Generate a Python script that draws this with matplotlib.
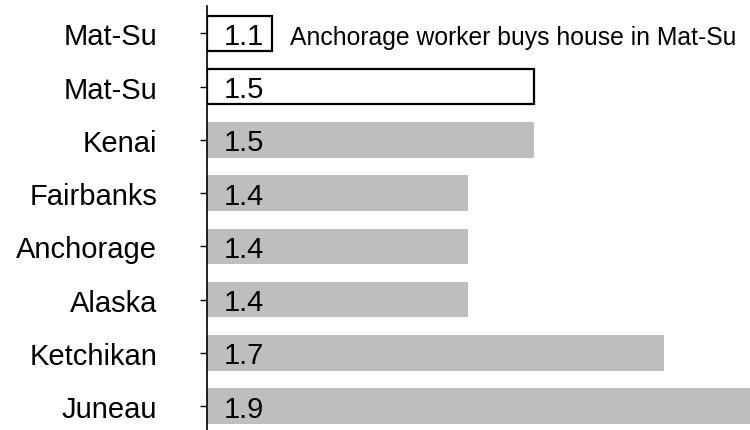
import matplotlib
matplotlib.use("Agg")
import matplotlib.pyplot as plt

plt.rcParams["font.family"] = ["Liberation Sans", "DejaVu Sans"]

# bottom to top
regions = ["Juneau", "Ketchikan", "Alaska", "Anchorage", "Fairbanks", "Kenai", "Mat-Su", "Mat-Su"]
ratios = [1.9, 1.7, 1.4, 1.4, 1.4, 1.5, 1.5, 1.1]
note = "Anchorage worker buys house in Mat-Su"

base = 1.0
gray = "#BEBEBE"
fills = [gray] * 6 + ["white", "white"]
edges = ["none"] * 6 + ["black", "black"]

fig = plt.figure(figsize=(7.5, 4.31), dpi=100)
ax = fig.add_axes([0.276, 0.0, 0.724, 0.9838])

ypos = list(range(len(regions)))
widths = [r - base for r in ratios]
ax.barh(ypos, widths, left=base, height=0.665, color=fills,
        edgecolor=edges, linewidth=1.6, zorder=2)

# digits sit centred on the bar, so anchor on the baseline
for y, r in zip(ypos, ratios):
    ax.annotate(f"{r:.1f}", xy=(base, y), xytext=(11.8, -7.6), textcoords="offset points",
                ha="left", va="baseline", fontsize=21, color="black", zorder=3)

ax.annotate(note, xy=(ratios[-1], ypos[-1]), xytext=(12.5, -7.6), textcoords="offset points",
            ha="left", va="baseline", fontsize=17.8, color="black")

ax.set_xlim(base, 1.831)
ax.set_ylim(-0.45, 7.514)
ax.set_yticks(ypos)
ax.set_yticklabels(regions, fontsize=21)
ax.tick_params(axis="y", direction="out", length=5, width=1, pad=31, colors="black")
ax.set_xticks([])

for s in ["top", "right", "bottom"]:
    ax.spines[s].set_visible(False)
ax.spines["left"].set_linewidth(1.2)
ax.spines["left"].set_color("black")
ax.spines["left"].set_zorder(4)

fig.savefig("out.png", dpi=100)
